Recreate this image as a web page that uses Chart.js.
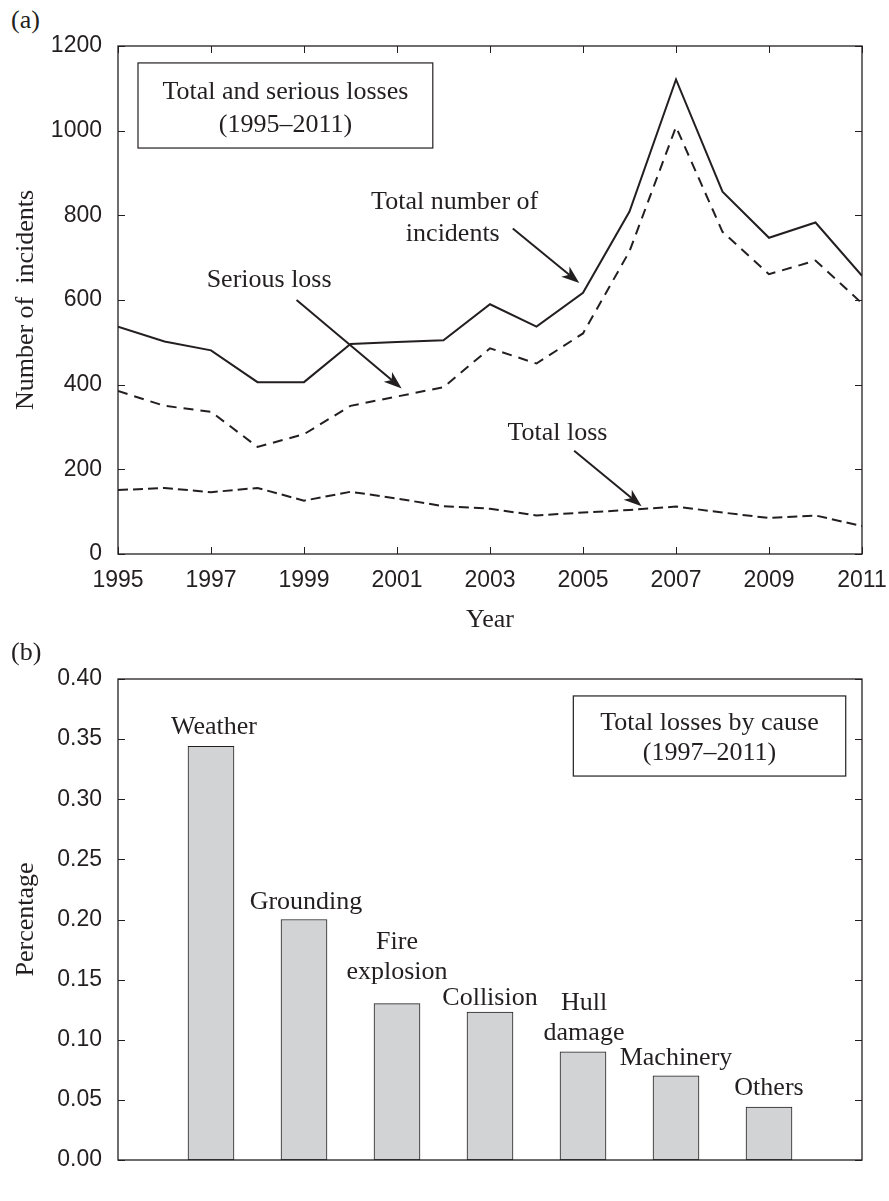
<!DOCTYPE html>
<html>
<head>
<meta charset="utf-8">
<title>Losses</title>
<script src="https://cdn.jsdelivr.net/npm/chart.js@4.4.0/dist/chart.umd.min.js"></script>
<style>
  body { margin: 0; background: #fff; }
  #wrap { position: relative; width: 889px; height: 1201px; }
  canvas { position: absolute; left: 0; }
  .panel { position: absolute; left: 11px; font: 26px 'Liberation Serif', 'Times New Roman', serif; color: #231f20; line-height: 30px; }
</style>
</head>
<body>
<div id="wrap">
  <div class="panel" style="top:5px">(a)</div>
  <canvas id="topChart" width="889" height="640" style="top:0"></canvas>
  <div class="panel" style="top:637px">(b)</div>
  <canvas id="barChart" width="889" height="561" style="top:640px"></canvas>
</div>
<script>
// panel (a): incidents per year
const years = [1995, 1996, 1997, 1998, 1999, 2000, 2001, 2002, 2003, 2004, 2005, 2006, 2007, 2008, 2009, 2010, 2011];
const totalIncidents = [537, 502, 481, 406, 406, 496, 501, 505, 590, 537, 617, 809, 1121, 856, 747, 783, 657];
const seriousLoss = [385, 350, 336, 253, 283, 350, 372, 394, 486, 450, 521, 715, 1009, 761, 661, 693, 592];
const totalLoss = [151, 156, 146, 156, 126, 147, 131, 113, 107, 91, 98, 104, 112, 98, 85, 91, 66];

// panel (b): total losses by cause
const causes = ['Weather', 'Grounding', 'Fire explosion', 'Collision', 'Hull damage', 'Machinery', 'Others'];
const causeShares = [0.344, 0.200, 0.130, 0.123, 0.090, 0.070, 0.044];
const causeLines = [['Weather'], ['Grounding'], ['Fire', 'explosion'], ['Collision'], ['Hull', 'damage'], ['Machinery'], ['Others']];
const labelLift = [12, 11, 25, 7, 12, 11, 12];
const labelShift = [3, 2, 0, 0, 1, 0, 0];

const ink = '#231f20';
const serif = "'Liberation Serif', 'Times New Roman', serif";
const sans = "'Liberation Sans', Arial, sans-serif";

function arrow(ctx, x1, y1, x2, y2) {
    const ang = Math.atan2(y2 - y1, x2 - x1);
    const len = 18, half = 6.5, back = 5;
    ctx.beginPath();
    ctx.moveTo(x1, y1);
    ctx.lineTo(x2 - Math.cos(ang) * (len - back), y2 - Math.sin(ang) * (len - back));
    ctx.stroke();
    ctx.save();
    ctx.translate(x2, y2);
    ctx.rotate(ang);
    ctx.beginPath();
    ctx.moveTo(0, 0);
    ctx.lineTo(-len, -half);
    ctx.lineTo(-len + back, 0);
    ctx.lineTo(-len, half);
    ctx.closePath();
    ctx.fill();
    ctx.restore();
}

// keep the plot box where the reference has it, whatever the labels want
function fixX(h) {
    return s => { s.height = h; s.paddingLeft = 0; s.paddingRight = 0; };
}
function fixY(s) {
    s.width = 118; s.paddingTop = 0; s.paddingBottom = 0;
}

// box round the plot plus inward ticks on all sides (matlab look)
const framePlugin = {
    id: 'frame',
    afterDraw(chart, args, opts) {
        const { ctx, chartArea: a } = chart;
        ctx.save();
        ctx.strokeStyle = ink;
        ctx.lineWidth = 1.3;
        ctx.strokeRect(a.left, a.top, a.right - a.left, a.bottom - a.top);
        ctx.lineWidth = 1;
        const ys = chart.scales.y;
        ys.ticks.forEach(t => {
            const p = Math.round(ys.getPixelForValue(t.value)) + 0.5;
            ctx.beginPath();
            ctx.moveTo(a.left, p); ctx.lineTo(a.left + 7, p);
            ctx.moveTo(a.right, p); ctx.lineTo(a.right - 7, p);
            ctx.stroke();
        });
        if (opts.xTicks) {
            const xs = chart.scales.x;
            xs.ticks.forEach(t => {
                const p = Math.round(xs.getPixelForValue(t.value)) + 0.5;
                ctx.beginPath();
                ctx.moveTo(p, a.bottom); ctx.lineTo(p, a.bottom - 7);
                ctx.moveTo(p, a.top); ctx.lineTo(p, a.top + 7);
                ctx.stroke();
            });
        }
        ctx.restore();
    }
};

const topNotes = {
    id: 'topNotes',
    afterDraw(chart) {
        const { ctx, scales: { x, y } } = chart;
        const px = v => x.getPixelForValue(v);
        const py = v => y.getPixelForValue(v);
        ctx.save();
        ctx.fillStyle = ink;
        ctx.strokeStyle = ink;
        ctx.lineWidth = 1.2;
        ctx.strokeRect(px(1995.43), py(1160), px(2001.77) - px(1995.43), py(959) - py(1160));
        ctx.font = '26px ' + serif;
        ctx.textAlign = 'center';
        ctx.textBaseline = 'alphabetic';
        ctx.fillText('Total and serious losses', px(1998.6), py(1074));
        ctx.fillText('(1995\u20132011)', px(1998.6), py(998));
        ctx.fillText('Serious loss', px(1998.25), py(630));
        ctx.fillText('Total number of', px(2002.24), py(814));
        ctx.fillText('incidents', px(2002.2), py(740));
        ctx.fillText('Total loss', px(2004.45), py(269));
        ctx.lineWidth = 2;
        arrow(ctx, px(1998.84), py(600), px(2001.1), py(391));
        arrow(ctx, px(2003.49), py(769), px(2004.92), py(640));
        arrow(ctx, px(2004.81), py(244), px(2006.26), py(113));
        ctx.restore();
    }
};

const barNotes = {
    id: 'barNotes',
    afterDraw(chart) {
        const { ctx, scales: { x, y } } = chart;
        const px = v => x.getPixelForValue(v);
        const py = v => y.getPixelForValue(v);
        ctx.save();
        ctx.fillStyle = ink;
        ctx.strokeStyle = ink;
        ctx.lineWidth = 1.2;
        ctx.strokeRect(px(4.896), py(0.3859), px(7.825) - px(4.896), py(0.3193) - py(0.3859));
        ctx.font = '26px ' + serif;
        ctx.textAlign = 'center';
        ctx.textBaseline = 'alphabetic';
        ctx.fillText('Total losses by cause', px(6.36), py(0.3576));
        ctx.fillText('(1997\u20132011)', px(6.36), py(0.3326));
        // cause names above each bar
        const bars = chart.getDatasetMeta(0).data;
        causeLines.forEach((lines, i) => {
            const bar = bars[i + 1];
            lines.forEach((txt, j) => {
                const k = lines.length - 1 - j;
                ctx.fillText(txt, bar.x + labelShift[i], bar.y - labelLift[i] - k * 30);
            });
        });
        ctx.restore();
    }
};

new Chart(document.getElementById('topChart'), {
    type: 'line',
    data: {
        datasets: [
            { label: 'Total number of incidents', data: years.map((yr, i) => ({ x: yr, y: totalIncidents[i] })), borderColor: ink, borderWidth: 2, pointRadius: 0, tension: 0 },
            { label: 'Serious loss', data: years.map((yr, i) => ({ x: yr, y: seriousLoss[i] })), borderColor: ink, borderWidth: 2, borderDash: [10, 7], pointRadius: 0, tension: 0 },
            { label: 'Total loss', data: years.map((yr, i) => ({ x: yr, y: totalLoss[i] })), borderColor: ink, borderWidth: 2, borderDash: [10, 5], pointRadius: 0, tension: 0 }
        ]
    },
    options: {
        responsive: false,
        animation: false,
        devicePixelRatio: 1,
        layout: { padding: { top: 46, right: 27, left: 0, bottom: 0 } },
        plugins: {
            legend: { display: false },
            tooltip: { enabled: false },
            frame: { xTicks: true }
        },
        scales: {
            x: {
                type: 'linear', min: 1995, max: 2011,
                afterFit: fixX(86),
                grid: { display: false }, border: { display: false },
                ticks: { stepSize: 2, color: ink, font: { family: sans, size: 23 }, padding: 5, maxRotation: 0, callback: v => v },
                title: { display: true, text: 'Year', color: ink, font: { family: serif, size: 26 }, padding: { top: 0, bottom: 4 } }
            },
            y: {
                min: 0, max: 1200,
                afterFit: fixY,
                grid: { display: false }, border: { display: false },
                ticks: { stepSize: 200, color: ink, font: { family: sans, size: 23 }, padding: 8, callback: v => v },
                title: { display: true, text: 'Number of  incidents', color: ink, font: { family: serif, size: 26 }, padding: { top: 11, bottom: 0 } }
            }
        }
    },
    plugins: [framePlugin, topNotes]
});

new Chart(document.getElementById('barChart'), {
    type: 'bar',
    data: {
        labels: [''].concat(causes, ['']),
        datasets: [{
            label: 'Share of total losses',
            data: [null].concat(causeShares, [null]),
            backgroundColor: '#d1d3d4',
            borderColor: ink,
            borderWidth: 1,
            borderSkipped: false,
            barThickness: 46
        }]
    },
    options: {
        responsive: false,
        animation: false,
        devicePixelRatio: 1,
        layout: { padding: { top: 39, right: 27, left: 0, bottom: 0 } },
        plugins: {
            legend: { display: false },
            tooltip: { enabled: false },
            frame: { xTicks: false }
        },
        scales: {
            x: {
                offset: false,
                afterFit: fixX(41),
                grid: { display: false }, border: { display: false },
                ticks: { display: false }
            },
            y: {
                min: 0, max: 0.4,
                afterFit: fixY,
                grid: { display: false }, border: { display: false },
                ticks: { stepSize: 0.05, color: ink, font: { family: sans, size: 23 }, padding: 8, callback: v => v.toFixed(2) },
                title: { display: true, text: 'Percentage', color: ink, font: { family: serif, size: 26 }, padding: { top: 11, bottom: 0 } }
            }
        }
    },
    plugins: [framePlugin, barNotes]
});
</script>
</body>
</html>
